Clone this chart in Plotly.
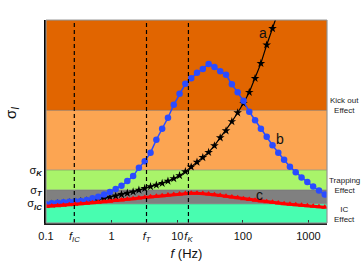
import plotly.graph_objects as go

# frequencies (Hz) of sampled points
freq = [0.1, 0.1226, 0.1503, 0.1843, 0.2259, 0.2770, 0.3396, 0.4164, 0.5105, 0.6258,
        0.7674, 0.9408, 1.153, 1.414, 1.734, 2.126, 2.606, 3.195, 3.917, 4.803,
        5.888, 7.219, 8.851, 10.85, 13.30, 16.31, 20.00, 24.52, 30.06, 36.86,
        45.19, 55.40, 67.92, 83.28, 102.1, 125.2, 153.5, 188.2, 230.7, 282.9,
        346.7, 425.1, 521.2, 639.0, 783.4, 960.4, 1178, 1444, 1770]

# curve a (black stars)
sig_a = [18.5, 19, 19.5, 20, 20.5, 21, 21.7, 22.2, 22.8, 23.5,
         24.7, 26, 27.1, 28.6, 29.9, 31.2, 33, 34.7, 36.5, 38,
         39.8, 42, 44.5, 47.5, 51.5, 56.2, 61, 65.7, 70.8, 77.5,
         85.5, 92.5, 101.7, 110.5, 120, 131, 145, 160, 178.5, 195, 212]

# curve b (blue circles)
sig_b = [18.7, 19.7, 20.3, 20.7, 21.2, 21.8, 22, 23, 24.7, 26.2,
         28.5, 31.2, 34.2, 37.3, 42, 47, 55.5, 62, 70.5, 83.5,
         94.5, 105.5, 118.5, 129.5, 139.5, 145, 150.5, 154.5, 159.5, 156.5,
         152, 148.5, 139, 131, 122.5, 111.5, 103, 94.5, 86.5, 78,
         70.5, 63.5, 56.5, 51, 45.5, 41, 36.5, 32.5, 28.5]

# curve c (red triangles)
sig_c = [16.7, 17, 17.4, 17.8, 18.2, 18.7, 19.2, 19.7, 20.2, 20.7,
         21.3, 21.9, 22.5, 23.1, 23.7, 24.3, 25, 25.6, 26.2, 26.8,
         27.4, 28, 28.6, 29.1, 29.6, 29.9, 29.9, 29.6, 29.1, 28.4,
         27.6, 26.8, 26, 25.2, 24.4, 23.6, 22.8, 22.1, 21.4, 20.7,
         20, 19.4, 18.8, 18.2, 17.7, 17.2, 16.7, 16.3, 15.9]

# regime bands (sigma limits) and colours
band_lo = [0, 19.3, 33.3, 53.3, 113]
band_hi = [19.3, 33.3, 53.3, 113, 203.5]
band_col = ["#48FDB0", "#808080", "#A9F46A", "#FCA552", "#E16500"]

# characteristic frequencies
f_marks = [0.27, 3.4, 14.8]
f_mark_labels = ["<i>f</i><sub><i>IC</i></sub>", "<i>f</i><sub><i>T</i></sub>", "<i>f</i><sub><i>K</i></sub>"]

# y ticks
sig_ticks = [19.5, 33.3, 53.3]
sig_tick_labels = ["σ<sub><b><i>IC</i></b></sub>", "σ<sub><b><i>T</i></b></sub>", "σ<sub><b><i>K</i></b></sub>"]

x_ticks = [0.1, 1, 10, 100, 1000]
x_tick_labels = ["0.1", "1", "10", "100", "1000"]

effects = ["IC<br>Effect", "Trapping<br>Effect", "Kick out<br>Effect"]
effect_y = [9, 38, 118]

fig = go.Figure()

shapes = []
for lo, hi, c in zip(band_lo, band_hi, band_col):
    shapes.append(dict(type="rect", xref="paper", x0=0, x1=1, yref="y", y0=lo, y1=hi,
                       fillcolor=c, line=dict(color="rgba(110,110,110,0.6)", width=0.6), layer="below"))
for fm in f_marks:
    shapes.append(dict(type="line", xref="x", x0=fm, x1=fm, yref="paper", y0=0, y1=1,
                       line=dict(color="black", width=1.2, dash="4px,3px"), layer="above"))
shapes.append(dict(type="rect", xref="paper", x0=0, x1=1, yref="paper", y0=0, y1=1,
                   line=dict(color="#999999", width=1), layer="above"))

fig.add_trace(go.Scatter(x=freq[:len(sig_a)], y=sig_a, mode="lines+markers",
                         line=dict(color="black", width=1.2),
                         marker=dict(symbol="star", size=6.5, color="black"), showlegend=False))
fig.add_trace(go.Scatter(x=freq, y=sig_b, mode="lines+markers",
                         line=dict(color="#2A4BFF", width=1.5),
                         marker=dict(symbol="circle", size=6.5, color="#2A4BFF"), showlegend=False))
fig.add_trace(go.Scatter(x=freq, y=sig_c, mode="lines+markers",
                         line=dict(color="#FF0000", width=3),
                         marker=dict(symbol="triangle-up", size=6, color="#FF0000"), showlegend=False))

annotations = []
for t, yv in zip(effects, effect_y):
    annotations.append(dict(text=t, xref="paper", x=1.064, yref="y", y=yv, showarrow=False,
                            font=dict(size=8, color="#222"), align="center", xanchor="center"))
annotations.append(dict(text="a", x=2.30, y=190, xref="x", yref="y", xanchor="center", yanchor="middle",
                        showarrow=False, font=dict(size=14, color="#111")))
annotations.append(dict(text="b", x=2.57, y=84.5, xref="x", yref="y", showarrow=False,
                        font=dict(size=14, color="#111")))
annotations.append(dict(text="c", x=2.25, y=28, xref="x", yref="y", showarrow=False,
                        font=dict(size=14, color="#111")))
annotations.append(dict(text="σ<sub><i>I</i></sub>", xref="paper", x=-0.122, yref="paper", y=0.54,
                        textangle=-90, showarrow=False, font=dict(size=15, color="#111"),
                        xanchor="center", yanchor="middle"))

fig.update_layout(
    width=361, height=266,
    margin=dict(l=46, r=34, t=20, b=43),
    paper_bgcolor="white", plot_bgcolor="white",
    font=dict(family="Arial, Liberation Sans, sans-serif", color="#111"),
    shapes=shapes, annotations=annotations,
    xaxis=dict(type="log", range=[-1, 3.282],
               tickvals=x_ticks + f_marks, ticktext=x_tick_labels + f_mark_labels,
               tickangle=0, tickfont=dict(size=11), ticklabelstandoff=2,
               ticks="inside", ticklen=3, tickcolor="#333",
               showgrid=False, zeroline=False, showline=True, linecolor="#222", linewidth=1.5,
               title=dict(text="<i>f</i> (Hz)", font=dict(size=13), standoff=6), automargin=False),
    yaxis=dict(range=[0, 203.5], tickvals=sig_ticks, ticktext=sig_tick_labels,
               tickfont=dict(size=11), ticks="", showgrid=False, zeroline=False,
               showline=True, linecolor="black", linewidth=2, automargin=False),
)

# remove the page body's default 8px margin so the figure fills the window exactly
fig.write_html("out.html", config={"displayModeBar": False},
               post_script="document.body.style.margin='0';document.body.style.overflow='hidden';")
